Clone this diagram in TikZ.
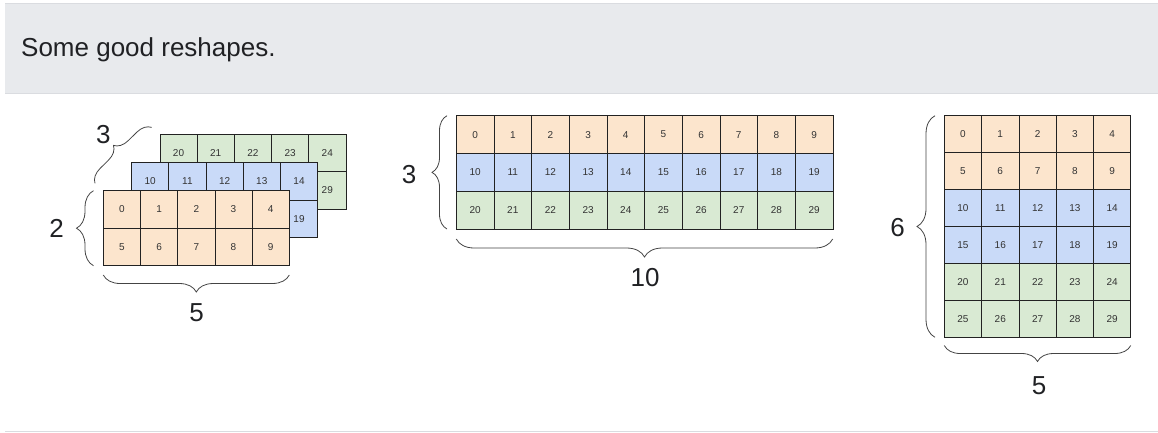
\documentclass[tikz,border=0pt]{standalone}
\usepackage{fontspec}
\setmainfont{Liberation Sans}
\usetikzlibrary{decorations.pathreplacing}
\definecolor{hdrfill}{HTML}{E8EAED}
\definecolor{hdrline}{HTML}{DADCE0}
\definecolor{hdrtext}{HTML}{202124}
\definecolor{org}{HTML}{FCE5CD}
\definecolor{blu}{HTML}{C9DAF8}
\definecolor{grn}{HTML}{D9EAD3}
\definecolor{cellline}{HTML}{222222}
\definecolor{celltext}{HTML}{333333}
\definecolor{brc}{HTML}{444444}
\tikzset{
  cellbox/.style n args={2}{draw=cellline, line width=0.8pt, minimum width=#1, minimum height=#2,
    inner sep=0pt, text=celltext, font=\fontsize{10}{12}\selectfont},
  curly/.style={decorate, decoration={brace, amplitude=#1}, draw=brc, line width=0.8pt},
  biglabel/.style={font=\fontsize{26}{30}\selectfont, text=hdrtext, inner sep=0pt},
}
\begin{document}
\begin{tikzpicture}[x=1pt,y=-1pt]
\useasboundingbox (0,0) rectangle (1158,432);
% header
\fill[hdrfill] (5,3) rectangle (1158,93);
\draw[hdrline, line width=1pt] (5,3) -- (1158,3);
\draw[hdrline, line width=1pt] (5,93) -- (1158,93);
\draw[hdrline, line width=1pt] (5,431) -- (1158,431);
\node[anchor=base west, font=\fontsize{26}{30}\selectfont, text=hdrtext, inner sep=0pt] (title) at (21,56) {Some good reshapes.};

% left stack: green (back), blue, orange (front)
\foreach \r in {0,1}{\foreach \c in {0,...,4}{
  \pgfmathtruncatemacro{\n}{20+5*\r+\c}
  \node[cellbox={37.2pt}{37.5pt}, fill=grn] (s\n) at ({159.9+37.2*(\c+0.5)},{134.1+37.5*(\r+0.5)}) {\n};
}}
\foreach \r in {0,1}{\foreach \c in {0,...,4}{
  \pgfmathtruncatemacro{\n}{10+5*\r+\c}
  \node[cellbox={37.2pt}{37.5pt}, fill=blu] (s\n) at ({131.6+37.2*(\c+0.5)},{162.4+37.5*(\r+0.5)}) {\n};
}}
\foreach \r in {0,1}{\foreach \c in {0,...,4}{
  \pgfmathtruncatemacro{\n}{5*\r+\c}
  \node[cellbox={37.2pt}{37.5pt}, fill=org] (s\n) at ({103.3+37.2*(\c+0.5)},{190.7+37.5*(\r+0.5)}) {\n};
}}
\coordinate (l2a) at (93.5,265.7);
\coordinate (l2b) at (93.5,190.7);
\draw[curly=17pt] (l2a) -- (l2b);
\node[biglabel] (lab2) at (56.7,228) {2};
\coordinate (l5a) at (289.3,275);
\coordinate (l5b) at (103.3,275);
\draw[curly=17pt] (l5a) -- (l5b);
\node[biglabel] (lab5a) at (196.7,313) {5};
\coordinate (l3a) at (95,183.3);
\coordinate (l3b) at (151.7,127.3);
\draw[curly=14pt] (l3a) -- (l3b);
\node[biglabel] (lab3a) at (103.3,135) {3};

% middle grid 3 x 10
\foreach \r/\col in {0/org,1/blu,2/grn}{\foreach \c in {0,...,9}{
  \pgfmathtruncatemacro{\n}{10*\r+\c}
  \node[cellbox={37.66pt}{37.8pt}, fill=\col] (m\n) at ({456.3+37.66*(\c+0.5)},{115.7+37.8*(\r+0.5)}) {\n};
}}
\coordinate (m3a) at (447,229);
\coordinate (m3b) at (447,115.7);
\draw[curly=15pt] (m3a) -- (m3b);
\node[biglabel] (lab3b) at (409,174.5) {3};
\coordinate (m10a) at (832.7,239);
\coordinate (m10b) at (456.3,239);
\draw[curly=18pt] (m10a) -- (m10b);
\node[biglabel] (lab10) at (645,277.5) {10};

% right grid 6 x 5
\foreach \r/\col in {0/org,1/org,2/blu,3/blu,4/grn,5/grn}{\foreach \c in {0,...,4}{
  \pgfmathtruncatemacro{\n}{5*\r+\c}
  \node[cellbox={37.3pt}{36.95pt}, fill=\col] (r\n) at ({944.3+37.3*(\c+0.5)},{115.7+36.95*(\r+0.5)}) {\n};
}}
\coordinate (r6a) at (935,337.3);
\coordinate (r6b) at (935,115.7);
\draw[curly=18pt] (r6a) -- (r6b);
\node[biglabel] (lab6) at (897.5,227.5) {6};
\coordinate (r5a) at (1130.7,345.5);
\coordinate (r5b) at (944.3,345.5);
\draw[curly=16pt] (r5a) -- (r5b);
\node[biglabel] (lab5b) at (1039,386) {5};
\end{tikzpicture}
\end{document}
